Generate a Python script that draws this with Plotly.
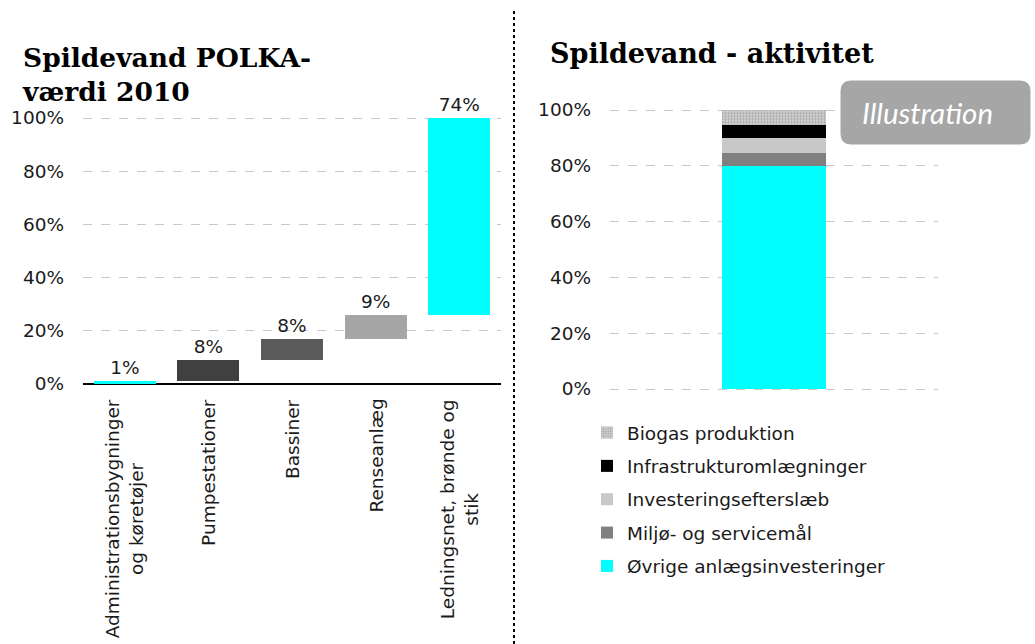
import plotly.graph_objects as go

# ---------------- data ----------------
left_categories = ["Administrationsbygninger<br>og køretøjer", "Pumpestationer", "Bassiner",
                   "Renseanlæg", "Ledningsnet, brønde og<br>stik"]
left_values = [1, 8, 8, 9, 74]
left_colors = ["#00FFFF", "#404040", "#5A5A5A", "#A6A6A6", "#00FFFF"]

right_category = ["Spildevand"]
right_series = ["Øvrige anlægsinvesteringer", "Miljø- og servicemål", "Investeringsefterslæb",
                "Infrastrukturomlægninger", "Biogas produktion"]
right_values = [80, 4.6, 5.4, 4.6, 5.4]
right_colors = ["#00FFFF", "#808080", "#C8C8C8", "#000000", "#D0D0D0"]

y_ticks = [0, 20, 40, 60, 80, 100]
y_ticktext = ["0%", "20%", "40%", "60%", "80%", "100%"]

# ---------------- figure ----------------
W, H = 1035, 644
def px(x):
    return x / W
def py(y):
    return 1 - y / H

TXT = "#1a1a1a"
SANS = "DejaVu Sans, Verdana, sans-serif"
SERIF = "DejaVu Serif, Georgia, serif"
FS = 18.5

fig = go.Figure()

# waterfall-like bars (base = running total)
bases = []
run = 0
for v in left_values:
    bases.append(run)
    run += v

fig.add_trace(go.Bar(
    x=left_categories, y=left_values, base=bases,
    marker=dict(color=left_colors, line=dict(width=0)),
    text=[f"{v}%" for v in left_values], textposition="outside",
    textfont=dict(family=SANS, size=FS, color=TXT),
    cliponaxis=False, showlegend=False, xaxis="x", yaxis="y",
))

n = len(right_series)
for i, (name, val, col) in enumerate(zip(right_series, right_values, right_colors)):
    marker = dict(color=col, line=dict(width=0))
    if name == "Biogas produktion":
        marker["pattern"] = dict(shape=".", fgcolor="#7A7A7A", bgcolor="#DADADA", size=3, solidity=0.5)
    fig.add_trace(go.Bar(
        x=right_category, y=[val], name=name, marker=marker,
        width=0.32, xaxis="x2", yaxis="y2", legendgroup=name, legendrank=n - i,
    ))

grid = dict(showgrid=True, gridcolor="#C8C8C8", griddash="dash", gridwidth=1)

pad = 0.5
l_unit = (384 - 118) / 100
r_unit = (389 - 110) / 100

fig.update_layout(
    width=W, height=H,
    margin=dict(l=0, r=0, t=0, b=0, autoexpand=False),
    paper_bgcolor="white", plot_bgcolor="white",
    barmode="stack", bargap=0.26,
    font=dict(family=SANS, size=FS, color=TXT),
    xaxis=dict(domain=[px(83), px(501)], anchor="y", showticklabels=False, ticks="",
               showline=False, showgrid=False, range=[-0.5, 4.5]),
    yaxis=dict(domain=[py(384 + pad * l_unit), py(118 - pad * l_unit)], anchor="x",
               range=[-pad, 100 + pad], tickvals=y_ticks, ticktext=y_ticktext,
               zeroline=True, zerolinecolor="black", zerolinewidth=1.5, ticklabelstandoff=18,
               tickfont=dict(family=SANS, size=FS, color=TXT), **grid),
    xaxis2=dict(domain=[px(610), px(938)], anchor="y2", showticklabels=False, ticks="",
                showline=False, showgrid=False, range=[-0.5, 0.5]),
    yaxis2=dict(domain=[py(389 + pad * r_unit), py(110 - pad * r_unit)], anchor="x2",
                range=[-pad, 100 + pad], tickvals=y_ticks, ticktext=y_ticktext,
                zeroline=False, ticklabelstandoff=18,
                tickfont=dict(family=SANS, size=FS, color=TXT), **grid),
    legend=dict(x=px(587), y=py(414), xanchor="left", yanchor="top",
                traceorder="grouped", tracegroupgap=6.3,
                font=dict(family=SANS, size=FS, color=TXT), bgcolor="rgba(0,0,0,0)"),
)

# rotated category labels under the left chart
for cat in left_categories:
    fig.add_annotation(x=cat, xref="x", y=py(397), yref="paper", text=cat,
                       textangle=-90, xanchor="center", yanchor="top", align="center",
                       showarrow=False, font=dict(family=SANS, size=FS, color=TXT))

# titles
fig.add_annotation(x=px(20), y=py(40), xref="paper", yref="paper", xanchor="left", yanchor="top",
                   text="<b>Spildevand POLKA-<br>værdi 2010</b>", showarrow=False, align="left",
                   font=dict(family=SERIF, size=26.5, color="black"))
fig.add_annotation(x=px(548), y=py(36), xref="paper", yref="paper", xanchor="left", yanchor="top",
                   text="<b>Spildevand - aktivitet</b>", showarrow=False,
                   font=dict(family=SERIF, size=27, color="black"))

# rounded "Illustration" box
x0, x1, y0, y1 = px(841), px(1030), py(81), py(144)
rx, ry = px(10), 10 / H
path = (f"M{x0+rx},{y0} L{x1-rx},{y0} Q{x1},{y0} {x1},{y0-ry} "
        f"L{x1},{y1+ry} Q{x1},{y1} {x1-rx},{y1} L{x0+rx},{y1} Q{x0},{y1} {x0},{y1+ry} "
        f"L{x0},{y0-ry} Q{x0},{y0} {x0+rx},{y0} Z")
fig.add_shape(type="path", path=path, xref="paper", yref="paper",
              fillcolor="#A6A6A6", line=dict(color="#A6A6A6", width=1))
fig.add_annotation(x=px(927), y=py(112), xref="paper", yref="paper",
                   xanchor="center", yanchor="middle",
                   text="<i>Illustration</i>", showarrow=False,
                   font=dict(family="Lato, Open Sans, sans-serif", size=29.5, color="white"))

# vertical dashed divider
fig.add_shape(type="line", xref="paper", yref="paper", x0=px(514), x1=px(514), y0=0, y1=py(9),
              line=dict(color="black", width=2, dash="dot"))

fig.write_html("out.html", post_script="document.body.style.margin='0';",
               config={"displayModeBar": False})
